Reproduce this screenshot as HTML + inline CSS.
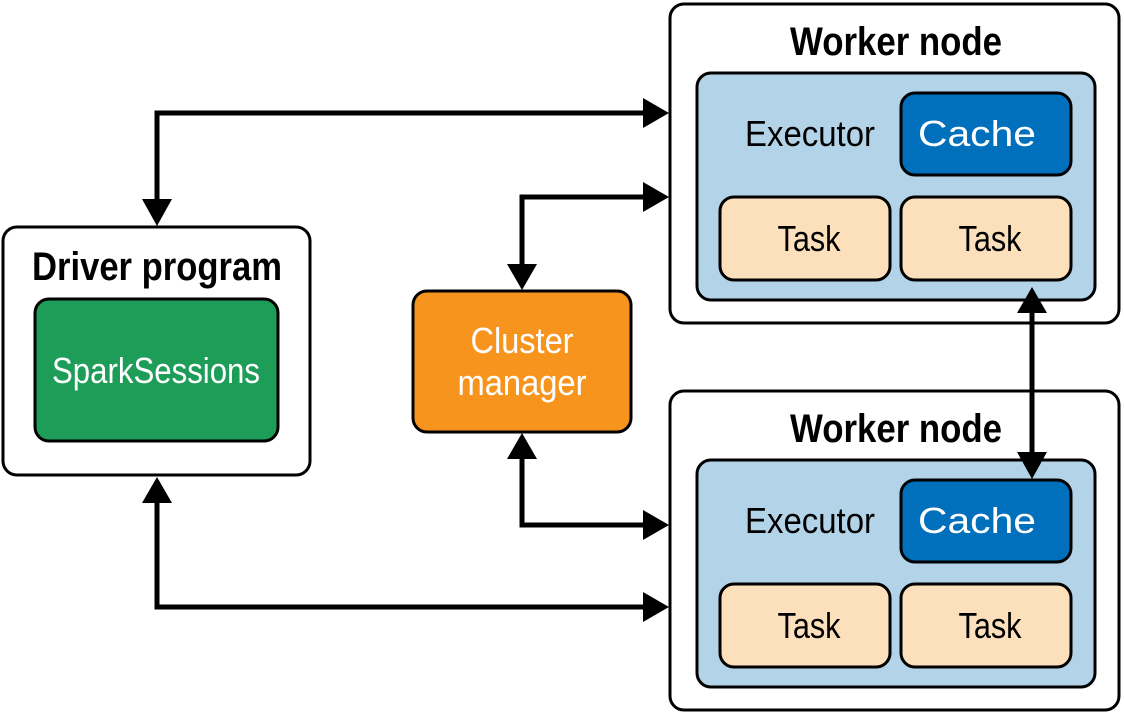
<!DOCTYPE html>
<html><head><meta charset="utf-8"><style>
html,body{margin:0;padding:0;background:#fff}
svg{display:block}
text{font-family:"Liberation Sans",sans-serif}
</style></head><body>
<svg width="1124" height="715" viewBox="0 0 1124 715" xmlns="http://www.w3.org/2000/svg">
<g fill="none" stroke="#000" stroke-width="5">
<polyline points="157,200 157,113 645,113"/>
<polyline points="522,265 522,197 645,197"/>
<polyline points="522,458 522,525 645,525"/>
<polyline points="157,502 157,607 645,607"/>
</g>
<!-- boxes -->
<rect x="3" y="227" width="307" height="248" rx="14" fill="#fff" stroke="#000" stroke-width="3"/>
<rect x="35" y="299" width="243" height="142" rx="14" fill="#1D9D58" stroke="#000" stroke-width="3"/>
<rect x="413" y="291" width="218" height="141" rx="14" fill="#F7941D" stroke="#000" stroke-width="3"/>
<g id="w">
<rect x="670" y="4" width="449" height="319" rx="14" fill="#fff" stroke="#000" stroke-width="3"/>
<rect x="697" y="73" width="398" height="227" rx="14" fill="#B3D3E8" stroke="#000" stroke-width="3"/>
<rect x="901" y="93" width="170" height="82" rx="14" fill="#0070BC" stroke="#000" stroke-width="3"/>
<rect x="720" y="197" width="170" height="83" rx="14" fill="#FCE0BC" stroke="#000" stroke-width="3"/>
<rect x="901" y="197" width="170" height="83" rx="14" fill="#FCE0BC" stroke="#000" stroke-width="3"/>
<text x="896" y="55" font-size="40" font-weight="bold" text-anchor="middle" textLength="212" lengthAdjust="spacingAndGlyphs">Worker node</text>
<text x="810" y="146" font-size="36" text-anchor="middle" textLength="130" lengthAdjust="spacingAndGlyphs">Executor</text>
<text x="977" y="146" font-size="36" fill="#fff" text-anchor="middle" textLength="118" lengthAdjust="spacingAndGlyphs">Cache</text>
<text x="809" y="251" font-size="36" text-anchor="middle" textLength="63" lengthAdjust="spacingAndGlyphs">Task</text>
<text x="990" y="251" font-size="36" text-anchor="middle" textLength="63" lengthAdjust="spacingAndGlyphs">Task</text>
</g>
<use href="#w" y="387"/>
<line x1="1032" y1="310" x2="1032" y2="455" stroke="#000" stroke-width="5"/>
<text x="157" y="280" font-size="40" font-weight="bold" text-anchor="middle" textLength="250" lengthAdjust="spacingAndGlyphs">Driver program</text>
<text x="156" y="383" font-size="36" fill="#fff" text-anchor="middle" textLength="208" lengthAdjust="spacingAndGlyphs">SparkSessions</text>
<text x="522" y="353" font-size="36" fill="#fff" text-anchor="middle" textLength="103" lengthAdjust="spacingAndGlyphs">Cluster</text>
<text x="522" y="395" font-size="36" fill="#fff" text-anchor="middle" textLength="129" lengthAdjust="spacingAndGlyphs">manager</text>
<!-- arrowheads -->
<g fill="#000">
<polygon points="142,199 172,199 157,226"/>
<polygon points="643,98 643,128 669,113"/>
<polygon points="507,264 537,264 522,290"/>
<polygon points="643,182 643,212 669,197"/>
<polygon points="507,459 537,459 522,433"/>
<polygon points="643,510 643,540 669,525"/>
<polygon points="142,503 172,503 157,477"/>
<polygon points="643,592 643,622 669,607"/>
<polygon points="1017,313 1047,313 1032,287"/>
<polygon points="1017,452 1047,452 1032,479"/>
</g>
</svg>
</body></html>
